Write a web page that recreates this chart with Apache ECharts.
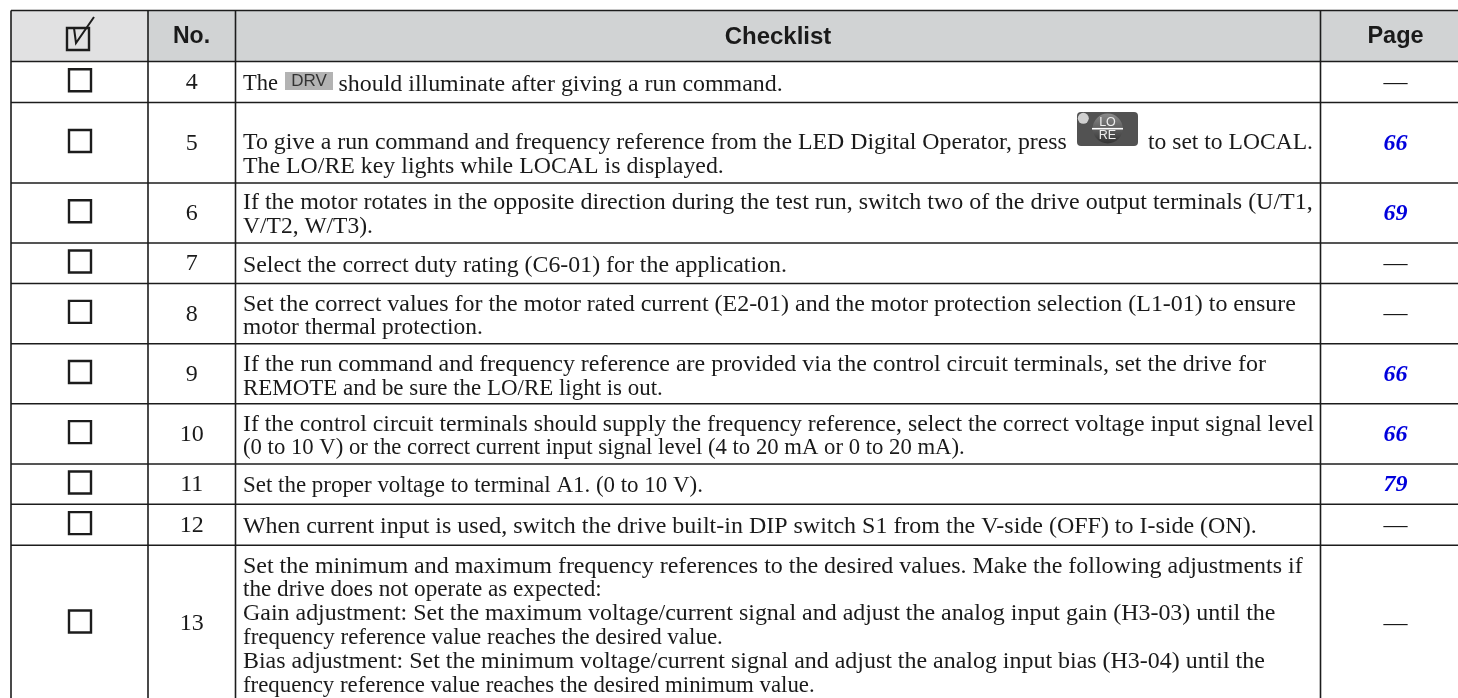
<!DOCTYPE html>
<html>
<head>
<meta charset="utf-8" />
<style>
  html, body, #main { margin: 0; padding: 0; background: #fff; }
  #main { width: 1458px; height: 698px; }
</style>
</head>
<body>
<div id="main"></div>
<script src="https://cdn.jsdelivr.net/npm/echarts@6/dist/echarts.min.js"></script>
<script>
// table content
const headers = ['No.', 'Checklist', 'Page'];
const itemNumbers = ['4', '5', '6', '7', '8', '9', '10', '11', '12', '13'];
const pageRefs = ['—', '66', '69', '—', '—', '66', '66', '79', '—', '—'];
const checklistLines = [
  ['The', 'should illuminate after giving a run command.'],
  ['To give a run command and frequency reference from the LED Digital Operator, press', 'to set to LOCAL.', 'The LO/RE key lights while LOCAL is displayed.'],
  ['If the motor rotates in the opposite direction during the test run, switch two of the drive output terminals (U/T1,', 'V/T2, W/T3).'],
  ['Select the correct duty rating (C6-01) for the application.'],
  ['Set the correct values for the motor rated current (E2-01) and the motor protection selection (L1-01) to ensure', 'motor thermal protection.'],
  ['If the run command and frequency reference are provided via the control circuit terminals, set the drive for', 'REMOTE and be sure the LO/RE light is out.'],
  ['If the control circuit terminals should supply the frequency reference, select the correct voltage input signal level', '(0 to 10 V) or the correct current input signal level (4 to 20 mA or 0 to 20 mA).'],
  ['Set the proper voltage to terminal A1. (0 to 10 V).'],
  ['When current input is used, switch the drive built-in DIP switch S1 from the V-side (OFF) to I-side (ON).'],
  ['Set the minimum and maximum frequency references to the desired values. Make the following adjustments if', 'the drive does not operate as expected:', 'Gain adjustment: Set the maximum voltage/current signal and adjust the analog input gain (H3-03) until the', 'frequency reference value reaches the desired value.', 'Bias adjustment: Set the minimum voltage/current signal and adjust the analog input bias (H3-04) until the', 'frequency reference value reaches the desired minimum value.']
];

// layout, in page pixels
const colEdges = [11, 148, 235.5, 1320.5, 1458];
const rowEdges = [10.5, 61.5, 102.5, 183, 243, 283.5, 343.7, 403.7, 464, 504.3, 545.3, 701];
const lineCenters = [
  [84.5, 84.5], [143, 143, 166.5], [203, 226.5], [265.5], [304.5, 328], [365, 388.5], [425, 448.5], [486], [526.5], [566.5, 590, 614, 638, 662, 686]
];
const lineStarts = { '0-1': 338.5, '1-1': 1148 };
const lineEnds = [
  [278, 783], [1067, 1313, 724], [1313, 373], [787], [1296, 483], [1266, 663], [1314, 965], [703], [1257], [1303, 602, 1276, 723, 1265, 815]
];
const lineColor = '#1c1c1c';
const textColor = '#1a1a1a';
const serif = '"Liberation Serif"';
const sans = '"Liberation Sans"';
const bodyFont = '24px ' + serif;

const measure = document.createElement('canvas').getContext('2d');

// font size that brings a line to the width it has in the table
function fitFont(text, width) {
  measure.font = bodyFont;
  const size = 24 * width / measure.measureText(text).width;
  return size.toFixed(2) + 'px ' + serif;
}

function label(x, y, text, font, fill, align) {
  return { type: 'text', style: { x, y, text, font, fill: fill || textColor, align: align || 'center', verticalAlign: 'middle' } };
}

function checkbox(cx, cy) {
  return { type: 'rect', shape: { x: cx - 11, y: cy - 11, width: 22, height: 22 }, style: { fill: 'none', stroke: lineColor, lineWidth: 2.4 } };
}

// header band and grid lines
function renderFrame(params, api) {
  const a = api.coord([colEdges[0], rowEdges[0]]);
  const b = api.coord([colEdges[4], rowEdges[1]]);
  const c = api.coord([colEdges[1], rowEdges[1]]);
  const kids = [
    { type: 'rect', shape: { x: c[0], y: a[1], width: b[0] - c[0], height: b[1] - a[1] }, style: { fill: '#d1d3d4' } },
    { type: 'rect', shape: { x: a[0], y: a[1], width: c[0] - a[0], height: b[1] - a[1] }, style: { fill: '#e1e1e2' } }
  ];
  rowEdges.slice(0, -1).forEach((y) => {
    const l = api.coord([colEdges[0], y]);
    const r = api.coord([colEdges[4], y]);
    kids.push({ type: 'line', shape: { x1: l[0], y1: l[1], x2: r[0], y2: r[1] }, style: { stroke: lineColor, lineWidth: 1.6 } });
  });
  colEdges.slice(0, -1).forEach((x) => {
    const t = api.coord([x, rowEdges[0]]);
    const d = api.coord([x, 698]);
    kids.push({ type: 'line', shape: { x1: t[0], y1: t[1], x2: d[0], y2: d[1] }, style: { stroke: lineColor, lineWidth: 1.6 } });
  });
  // header texts and ticked box
  const hy = api.coord([0, 37])[1];
  kids.push(label(191.5, hy, headers[0], 'bold 23px ' + sans));
  kids.push(label(778, hy, headers[1], 'bold 24px ' + sans));
  kids.push(label(1395.5, hy, headers[2], 'bold 23.5px ' + sans));
  kids.push(checkbox(78, 39));
  kids.push({ type: 'polyline', shape: { points: [[74, 28], [76, 43], [94, 17]] }, style: { fill: 'none', stroke: lineColor, lineWidth: 2 } });
  return { type: 'group', children: kids };
}

// one table row per data item
function renderRow(params, api) {
  const i = api.value(0);
  const mid = api.coord([0, (rowEdges[i + 1] + rowEdges[i + 2]) / 2])[1];
  const kids = [checkbox(80, mid - 1.7)];
  kids.push(label(api.coord([(colEdges[1] + colEdges[2]) / 2, 0])[0], mid + 0.7, itemNumbers[i], bodyFont));
  const pg = pageRefs[i];
  const pageX = api.coord([1395.5, 0])[0];
  if (pg === '—') {
    kids.push(label(pageX, mid + 0.5, pg, bodyFont));
  } else {
    kids.push(label(pageX, mid + 0.7, pg, 'italic bold 24px ' + serif, '#0000dc'));
  }
  checklistLines[i].forEach((line, n) => {
    const x = lineStarts[i + '-' + n] || 243;
    const font = fitFont(line, lineEnds[i][n] - x);
    kids.push(label(x, api.coord([0, lineCenters[i][n]])[1], line, font, textColor, 'left'));
  });
  return { type: 'group', children: kids };
}

// inline indicator chips
function renderChips(params, api) {
  return { type: 'group', children: [
    { type: 'rect', shape: { x: 285, y: 72, width: 48, height: 18 }, style: { fill: '#b3b3b3' } },
    label(309, 81, 'DRV', '17px ' + sans, '#333'),
    { type: 'rect', shape: { x: 1077, y: 112, width: 61, height: 34, r: 4 }, style: { fill: '#525252' } },
    { type: 'circle', shape: { cx: 1083.3, cy: 118.3, r: 5.5 }, style: { fill: '#d0d0d0' } },
    { type: 'circle', shape: { cx: 1107.7, cy: 128.5, r: 15 }, style: { fill: { type: 'linear', x: 0, y: 0, x2: 0, y2: 1, colorStops: [{ offset: 0, color: '#8a8a8a' }, { offset: 1, color: '#333' }] } } },
    { type: 'line', shape: { x1: 1092, y1: 128.7, x2: 1123, y2: 128.7 }, style: { stroke: '#fff', lineWidth: 1.6 } },
    label(1107.5, 122.5, 'LO', '12.5px ' + sans, '#eee'),
    label(1107.5, 136, 'RE', '12.5px ' + sans, '#eee')
  ] };
}

const chart = echarts.init(document.getElementById('main'));
chart.setOption({
  animation: false,
  grid: { left: 0, right: 0, top: 0, bottom: 0 },
  xAxis: { type: 'value', min: 0, max: 1458, show: false },
  yAxis: { type: 'value', min: 0, max: 698, inverse: true, show: false },
  series: [
    { type: 'custom', coordinateSystem: 'cartesian2d', silent: true, renderItem: renderFrame, data: [[0]] },
    { type: 'custom', coordinateSystem: 'cartesian2d', silent: true, renderItem: renderRow, data: itemNumbers.map((n, i) => [i]) },
    { type: 'custom', coordinateSystem: 'cartesian2d', silent: true, renderItem: renderChips, data: [[0]] }
  ]
});
</script>
</body>
</html>
